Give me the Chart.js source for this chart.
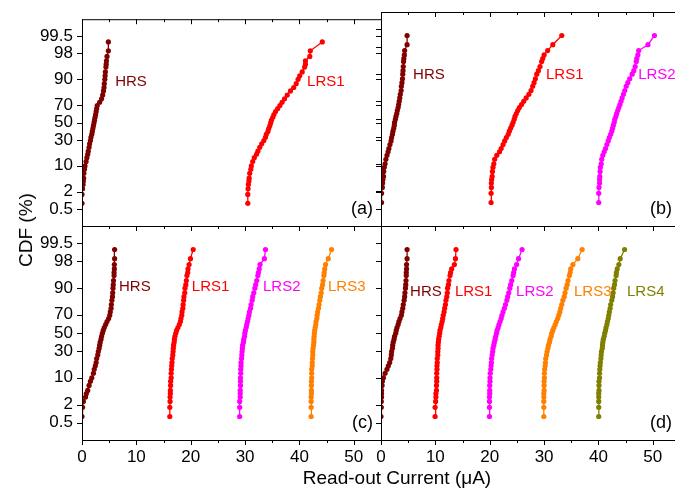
<!DOCTYPE html>
<html>
<head>
<meta charset="utf-8">
<script src="https://cdn.jsdelivr.net/npm/chart.js@4.4.1/dist/chart.umd.min.js"></script>
<style>
  html, body { margin: 0; padding: 0; background: #fff; overflow: hidden; }
  #wrap { position: relative; width: 675px; height: 492px; overflow: hidden; }
  #wrap canvas { position: absolute; left: 0; top: 0; }
  .title { position: absolute; font-family: 'Liberation Sans', Arial, sans-serif; font-size: 19px; color: #000; white-space: nowrap; }
  #ytitle { left: 26px; top: 230px; transform: translate(-50%, -50%) rotate(-90deg); }
  #xtitle { left: 397px; top: 478px; transform: translate(-50%, -50%); }
</style>
</head>
<body>
<div id="wrap">
  <canvas id="panelA" width="680" height="492"></canvas>
  <canvas id="panelB" width="680" height="492"></canvas>
  <canvas id="panelC" width="680" height="492"></canvas>
  <canvas id="panelD" width="680" height="492"></canvas>
  <div class="title" id="ytitle">CDF (%)</div>
  <div class="title" id="xtitle">Read-out Current (μA)</div>
</div>
<script>
// cumulative probability (%) of each plotted rank, shared by all series
const cdfLevels = [0.83, 1.65, 2.48, 3.31, 4.13, 4.96, 6.61, 8.26, 9.92, 12.40, 14.88, 17.36, 19.83, 23.14,
  26.45, 29.75, 33.06, 36.36, 39.67, 42.98, 46.28, 49.59, 52.89, 56.20, 59.50, 62.81, 66.12, 69.42, 72.73,
  76.03, 79.34, 82.64, 85.12, 87.60, 90.08, 91.74, 93.39, 95.04, 95.87, 96.69, 97.52, 98.35, 99.17];

// read-out current (uA) at each level
const aHRS = [0.0, 0.0, 0.1, 0.2, 0.25, 0.3, 0.35, 0.45, 0.55, 0.75, 0.9, 1.05, 1.15, 1.3, 1.4, 1.55, 1.65, 1.8, 1.9,
  2.0, 2.1, 2.2, 2.3, 2.4, 2.5, 2.6, 2.7, 2.8, 3.25, 3.6, 3.8, 3.95, 4.05, 4.1, 4.2, 4.25, 4.3, 4.4, 4.45, 4.5, 4.6, 4.85, 4.85];
const aLRS1 = [30.5, 30.5, 30.55, 30.6, 30.7, 30.75, 30.85, 31.05, 31.15, 31.4, 31.7, 32.1, 32.35, 32.7, 33.05, 33.45,
  33.75, 33.9, 34.2, 34.35, 34.55, 34.7, 34.85, 35.1, 35.3, 35.6, 36.0, 36.4, 36.8, 37.25, 37.75, 38.35, 38.95, 39.4,
  39.75, 40.05, 40.5, 40.95, 41.1, 41.1, 41.9, 42.0, 44.2];

const bHRS = [0.1, 0.1, 0.25, 0.3, 0.35, 0.45, 0.5, 0.6, 0.75, 0.9, 1.1, 1.3, 1.45, 1.65, 1.85, 1.95, 2.1, 2.2, 2.35,
  2.45, 2.5, 2.65, 2.75, 2.9, 3.0, 3.15, 3.25, 3.35, 3.45, 3.55, 3.7, 3.75, 3.85, 3.95, 4.0, 4.05, 4.1, 4.15, 4.2, 4.3, 4.35, 4.8, 4.8];
const bLRS1 = [20.25, 20.25, 20.3, 20.3, 20.35, 20.45, 20.5, 20.6, 20.75, 20.9, 21.3, 21.8, 22.1, 22.45, 22.75, 23.05,
  23.4, 23.6, 23.85, 24.1, 24.3, 24.5, 24.65, 24.9, 25.15, 25.45, 25.85, 26.25, 26.7, 27.2, 27.6, 27.9, 28.15, 28.4,
  28.65, 28.95, 29.25, 29.55, 29.75, 30.0, 30.65, 31.6, 33.25];
const bLRS2 = [40.05, 40.05, 40.1, 40.2, 40.2, 40.25, 40.3, 40.35, 40.5, 40.6, 40.8, 41.05, 41.3, 41.55, 41.8, 42.0,
  42.25, 42.45, 42.6, 42.75, 42.9, 43.0, 43.2, 43.35, 43.55, 43.75, 43.95, 44.15, 44.35, 44.6, 44.85, 45.1, 45.4, 45.75,
  46.2, 46.5, 46.75, 46.95, 47.05, 47.25, 47.4, 49.1, 50.3];

const cHRS = [0.0, 0.1, 0.25, 0.65, 0.8, 1.05, 1.3, 1.55, 1.8, 2.1, 2.25, 2.45, 2.6, 2.7, 2.9, 3.0, 3.15, 3.25, 3.35,
  3.5, 3.6, 3.75, 3.9, 4.1, 4.35, 4.6, 4.9, 5.1, 5.2, 5.35, 5.4, 5.5, 5.6, 5.65, 5.7, 5.75, 5.8, 5.9, 5.9, 5.95, 5.95, 6.0, 6.0];
const cLRS1 = [16.15, 16.15, 16.2, 16.2, 16.25, 16.25, 16.3, 16.3, 16.4, 16.4, 16.45, 16.5, 16.55, 16.6, 16.7, 16.75,
  16.8, 16.85, 16.95, 17.0, 17.1, 17.25, 17.4, 17.65, 17.9, 18.1, 18.2, 18.35, 18.4, 18.55, 18.6, 18.7, 18.75, 18.9,
  18.95, 19.1, 19.2, 19.3, 19.45, 19.5, 19.7, 19.95, 20.45];
const cLRS2 = [29.0, 29.0, 29.0, 29.1, 29.1, 29.1, 29.15, 29.15, 29.15, 29.2, 29.2, 29.25, 29.25, 29.35, 29.4, 29.45,
  29.5, 29.55, 29.7, 29.75, 29.9, 29.95, 30.05, 30.2, 30.3, 30.45, 30.55, 30.7, 30.8, 31.0, 31.1, 31.3, 31.4, 31.6,
  31.8, 31.95, 32.15, 32.35, 32.45, 32.6, 32.75, 33.55, 33.75];
const cLRS3 = [42.15, 42.15, 42.15, 42.15, 42.2, 42.2, 42.2, 42.2, 42.25, 42.25, 42.25, 42.35, 42.35, 42.4, 42.45, 42.45,
  42.5, 42.6, 42.65, 42.65, 42.7, 42.75, 42.8, 42.9, 43.0, 43.05, 43.2, 43.25, 43.35, 43.5, 43.6, 43.75, 43.85, 44.0,
  44.1, 44.25, 44.35, 44.5, 44.55, 44.65, 44.8, 45.3, 45.9];

const dHRS = [0.0, 0.05, 0.05, 0.1, 0.1, 0.1, 0.2, 0.25, 0.45, 0.75, 1.1, 1.35, 1.6, 1.8, 1.9, 1.95, 2.1, 2.15, 2.25,
  2.4, 2.5, 2.7, 2.8, 2.95, 3.15, 3.3, 3.5, 3.75, 3.85, 4.0, 4.1, 4.25, 4.35, 4.4, 4.5, 4.55, 4.6, 4.65, 4.65, 4.7, 4.7, 4.8, 4.8];
const dLRS1 = [9.95, 9.95, 10.05, 10.1, 10.1, 10.2, 10.2, 10.25, 10.25, 10.25, 10.3, 10.3, 10.35, 10.35, 10.45, 10.45,
  10.5, 10.5, 10.55, 10.6, 10.7, 10.8, 10.85, 11.0, 11.1, 11.25, 11.35, 11.45, 11.6, 11.7, 11.85, 11.95, 12.1, 12.2,
  12.25, 12.4, 12.5, 12.7, 12.8, 13.0, 13.5, 13.7, 13.8];
const dLRS2 = [19.95, 19.95, 19.95, 19.95, 20.0, 20.0, 20.0, 20.05, 20.05, 20.1, 20.2, 20.25, 20.3, 20.35, 20.45, 20.55,
  20.6, 20.75, 20.85, 21.0, 21.1, 21.25, 21.35, 21.55, 21.7, 21.9, 22.1, 22.25, 22.45, 22.7, 22.9, 23.15, 23.3, 23.5,
  23.7, 23.85, 24.05, 24.3, 24.4, 24.55, 24.95, 25.3, 25.95];
const dLRS3 = [29.95, 29.95, 29.95, 29.95, 29.95, 30.0, 30.0, 30.0, 30.05, 30.05, 30.1, 30.2, 30.25, 30.3, 30.45, 30.55,
  30.7, 30.8, 31.0, 31.1, 31.3, 31.4, 31.6, 31.8, 32.05, 32.25, 32.5, 32.7, 32.9, 33.05, 33.25, 33.45, 33.7, 33.85,
  34.05, 34.25, 34.4, 34.65, 34.8, 34.9, 35.3, 36.2, 37.0];
const dLRS4 = [40.05, 40.05, 40.05, 40.05, 40.05, 40.1, 40.1, 40.1, 40.2, 40.2, 40.25, 40.3, 40.35, 40.45, 40.5, 40.55,
  40.7, 40.75, 40.8, 40.9, 41.05, 41.15, 41.3, 41.4, 41.55, 41.65, 41.8, 41.9, 42.0, 42.15, 42.25, 42.45, 42.6, 42.7,
  42.8, 42.95, 43.05, 43.25, 43.3, 43.45, 43.75, 44.0, 44.8];

// axis ticks
const cdfTicks = [0.5, 2, 10, 30, 50, 70, 90, 98, 99.5];
const currentTicks = [0, 10, 20, 30, 40, 50];
const currentMinorTicks = [5, 15, 25, 35, 45];
const currentMax = 55;
const probitLimit = 3.07;

const seriesColors = { HRS: '#800000', LRS1: '#ff0000', LRS2: '#ff00ff', LRS3: '#ff8000', LRS4: '#808000' };
const FONT = "'Liberation Sans', Arial, sans-serif";

// inverse of the standard normal CDF (Acklam's approximation)
function probit(p) {
  const a = [-3.969683028665376e+01, 2.209460984245205e+02, -2.759285104469687e+02, 1.383577518672690e+02, -3.066479806614716e+01, 2.506628277459239e+00];
  const b = [-5.447609879822406e+01, 1.615858368580409e+02, -1.556989798598866e+02, 6.680131188771972e+01, -1.328068155288572e+01];
  const c = [-7.784894002430293e-03, -3.223964580411365e-01, -2.400758277161838e+00, -2.549732539343734e+00, 4.374664141464968e+00, 2.938163982698783e+00];
  const d = [7.784695709041462e-03, 3.224671290700398e-01, 2.445134137142996e+00, 3.754408661907416e+00];
  const pl = 0.02425;
  if (p < pl) {
    const q = Math.sqrt(-2 * Math.log(p));
    return (((((c[0] * q + c[1]) * q + c[2]) * q + c[3]) * q + c[4]) * q + c[5]) / ((((d[0] * q + d[1]) * q + d[2]) * q + d[3]) * q + 1);
  }
  if (p > 1 - pl) {
    const q = Math.sqrt(-2 * Math.log(1 - p));
    return -(((((c[0] * q + c[1]) * q + c[2]) * q + c[3]) * q + c[4]) * q + c[5]) / ((((d[0] * q + d[1]) * q + d[2]) * q + d[3]) * q + 1);
  }
  const q = p - 0.5, r = q * q;
  return (((((a[0] * r + a[1]) * r + a[2]) * r + a[3]) * r + a[4]) * r + a[5]) * q / (((((b[0] * r + b[1]) * r + b[2]) * r + b[3]) * r + b[4]) * r + 1);
}

// frame, inward/outward tick marks, panel letter and curve names
const panelDecor = {
  id: 'panelDecor',
  afterDatasetsDraw(chart, args, opts) {
    const { ctx, chartArea: area, scales: { x, y } } = chart;
    ctx.save();
    ctx.strokeStyle = '#000';
    ctx.lineWidth = 1;
    ctx.strokeRect(area.left + 0.5, area.top + 0.5, area.right - area.left, area.bottom - area.top);

    ctx.beginPath();
    cdfTicks.forEach(t => {
      const py = Math.round(y.getPixelForValue(probit(t / 100))) + 0.5;
      ctx.moveTo(area.left, py); ctx.lineTo(area.left - 5, py);
      ctx.moveTo(area.right, py); ctx.lineTo(area.right - 5, py);
    });
    const xTick = (v, len) => {
      const px = Math.round(x.getPixelForValue(v)) + 0.5;
      ctx.moveTo(px, area.bottom); ctx.lineTo(px, area.bottom + len);
      ctx.moveTo(px, area.top); ctx.lineTo(px, area.top + len);
    };
    currentTicks.forEach(v => xTick(v, 5));
    currentMinorTicks.forEach(v => xTick(v, 3));
    ctx.stroke();

    ctx.fillStyle = '#000';
    ctx.font = '18px ' + FONT;
    ctx.textAlign = 'right';
    ctx.textBaseline = 'middle';
    ctx.fillText(opts.letter, area.right - 8, area.bottom - 17);

    ctx.font = '15px ' + FONT;
    ctx.textAlign = 'left';
    opts.names.forEach(n => {
      ctx.fillStyle = seriesColors[n.name];
      ctx.fillText(n.name, x.getPixelForValue(n.x), y.getPixelForValue(probit(n.cdf / 100)));
    });
    ctx.restore();
  }
};

const W = 680, H = 492, Y_AXIS = 80, X_AXIS = 40;

function makePanel(id, rect, series, showX, showY, letter, names) {
  const datasets = series.map(s => ({
    label: s.name,
    data: s.values.map((v, i) => ({ x: v, y: probit(cdfLevels[i] / 100) })),
    showLine: true,
    borderColor: seriesColors[s.name],
    backgroundColor: seriesColors[s.name],
    borderWidth: 1.3,
    pointRadius: 2.6,
    pointBorderWidth: 0
  }));

  new Chart(document.getElementById(id), {
    type: 'scatter',
    data: { datasets },
    options: {
      responsive: false,
      animation: false,
      events: [],
      layout: {
        autoPadding: false,
        padding: { left: rect.left - Y_AXIS, top: rect.top, right: W - rect.right, bottom: H - rect.bottom - X_AXIS }
      },
      plugins: {
        legend: { display: false },
        tooltip: { enabled: false },
        panelDecor: { letter, names }
      },
      scales: {
        x: {
          type: 'linear',
          min: 0,
          max: currentMax,
          grid: { display: false, drawTicks: false },
          border: { display: false },
          afterBuildTicks: s => { s.ticks = currentTicks.map(v => ({ value: v })); },
          afterFit: s => { s.height = X_AXIS; },
          ticks: {
            display: showX,
            padding: 7,
            maxRotation: 0,
            autoSkip: false,
            color: '#000',
            font: { family: FONT, size: 17 }
          }
        },
        y: {
          type: 'linear',
          min: -probitLimit,
          max: probitLimit,
          grid: { display: false, drawTicks: false },
          border: { display: false },
          afterBuildTicks: s => { s.ticks = cdfTicks.map(t => ({ value: probit(t / 100) })); },
          afterFit: s => { s.width = Y_AXIS; },
          ticks: {
            display: showY,
            padding: 9,
            autoSkip: false,
            color: '#000',
            font: { family: FONT, size: 17 },
            callback: (v, i) => String(cdfTicks[i])
          }
        }
      }
    },
    plugins: [panelDecor]
  });
}

makePanel('panelA', { left: 82, top: 12, right: 381, bottom: 226 },
  [{ name: 'HRS', values: aHRS }, { name: 'LRS1', values: aLRS1 }],
  false, true, '(a)',
  [{ name: 'HRS', x: 6.1, cdf: 88.6 }, { name: 'LRS1', x: 41.4, cdf: 88.6 }]);

makePanel('panelB', { left: 381, top: 12, right: 680, bottom: 226 },
  [{ name: 'HRS', values: bHRS }, { name: 'LRS1', values: bLRS1 }, { name: 'LRS2', values: bLRS2 }],
  false, false, '(b)',
  [{ name: 'HRS', x: 5.9, cdf: 89.7 }, { name: 'LRS1', x: 30.35, cdf: 89.7 }, { name: 'LRS2', x: 47.3, cdf: 89.7 }]);

makePanel('panelC', { left: 82, top: 226, right: 381, bottom: 440 },
  [{ name: 'HRS', values: cHRS }, { name: 'LRS1', values: cLRS1 }, { name: 'LRS2', values: cLRS2 }, { name: 'LRS3', values: cLRS3 }],
  true, true, '(c)',
  [{ name: 'HRS', x: 6.8, cdf: 90.7 }, { name: 'LRS1', x: 20.2, cdf: 90.7 }, { name: 'LRS2', x: 33.3, cdf: 90.7 }, { name: 'LRS3', x: 45.25, cdf: 90.7 }]);

makePanel('panelD', { left: 381, top: 226, right: 680, bottom: 440 },
  [{ name: 'HRS', values: dHRS }, { name: 'LRS1', values: dLRS1 }, { name: 'LRS2', values: dLRS2 }, { name: 'LRS3', values: dLRS3 }, { name: 'LRS4', values: dLRS4 }],
  true, false, '(d)',
  [{ name: 'HRS', x: 5.35, cdf: 88.0 }, { name: 'LRS1', x: 13.6, cdf: 88.0 }, { name: 'LRS2', x: 24.85, cdf: 88.0 }, { name: 'LRS3', x: 35.5, cdf: 88.0 }, { name: 'LRS4', x: 45.25, cdf: 88.0 }]);
</script>
</body>
</html>
